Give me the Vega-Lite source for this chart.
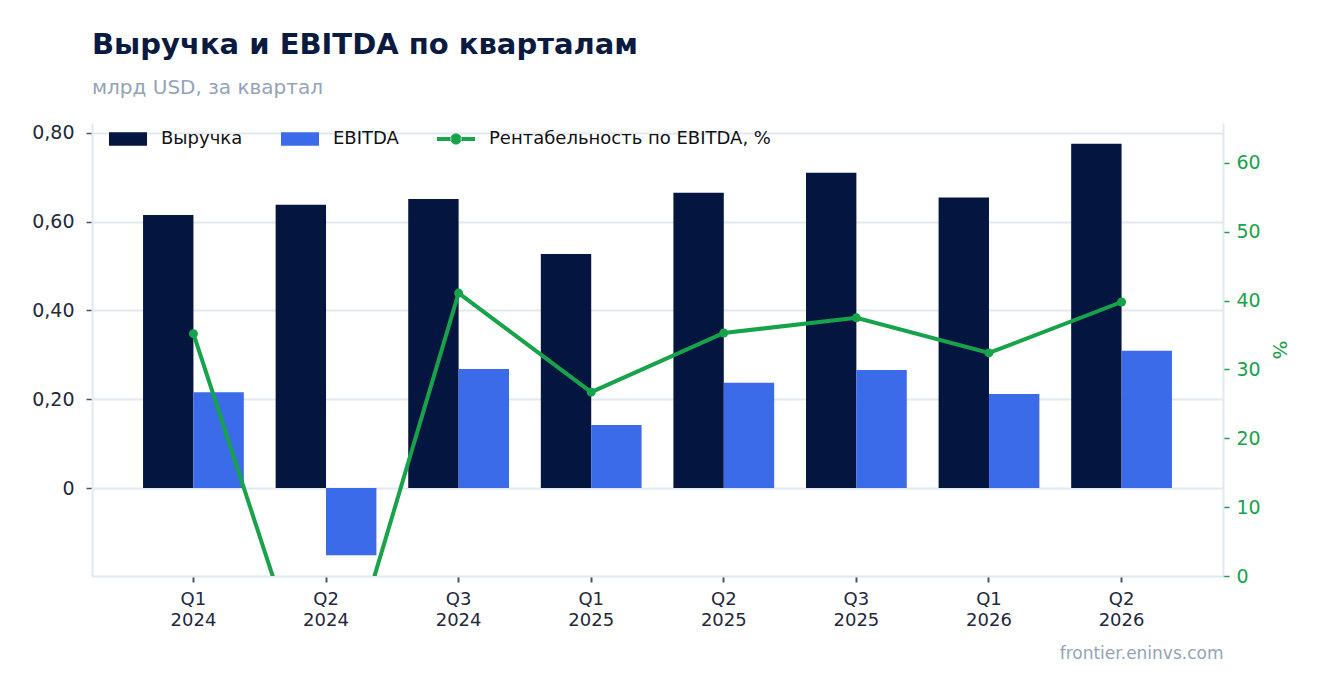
{
  "$schema": "https://vega.github.io/schema/vega-lite/v6.json",
  "width": 1131,
  "height": 453,
  "padding": {"left": 5, "top": 31, "right": 5, "bottom": 5},
  "title": {
    "text": "Выручка и EBITDA по кварталам",
    "subtitle": "млрд USD, за квартал",
    "anchor": "start",
    "frame": "group",
    "font": "DejaVu Sans",
    "fontSize": 29,
    "fontWeight": "bold",
    "color": "#0b1a3f",
    "subtitleFont": "DejaVu Sans",
    "subtitleFontSize": 20,
    "subtitleColor": "#94a3b8",
    "subtitlePadding": 18,
    "offset": 22
  },
  "config": {
    "font": "DejaVu Sans",
    "view": {"stroke": null}
  },
  "resolve": {"scale": {"y": "independent"}, "axis": {"y": "independent"}},
  "layer": [
    {
      "data": {
        "values": [
          {"quarter": "Q1 2024", "series": "Выручка", "value": 0.615},
          {"quarter": "Q1 2024", "series": "EBITDA", "value": 0.216},
          {"quarter": "Q2 2024", "series": "Выручка", "value": 0.638},
          {"quarter": "Q2 2024", "series": "EBITDA", "value": -0.151},
          {"quarter": "Q3 2024", "series": "Выручка", "value": 0.651},
          {"quarter": "Q3 2024", "series": "EBITDA", "value": 0.268},
          {"quarter": "Q1 2025", "series": "Выручка", "value": 0.527},
          {"quarter": "Q1 2025", "series": "EBITDA", "value": 0.142},
          {"quarter": "Q2 2025", "series": "Выручка", "value": 0.665},
          {"quarter": "Q2 2025", "series": "EBITDA", "value": 0.237},
          {"quarter": "Q3 2025", "series": "Выручка", "value": 0.710},
          {"quarter": "Q3 2025", "series": "EBITDA", "value": 0.266},
          {"quarter": "Q1 2026", "series": "Выручка", "value": 0.654},
          {"quarter": "Q1 2026", "series": "EBITDA", "value": 0.212},
          {"quarter": "Q2 2026", "series": "Выручка", "value": 0.775},
          {"quarter": "Q2 2026", "series": "EBITDA", "value": 0.309}
        ]
      },
      "mark": {"type": "bar"},
      "encoding": {
        "x": {
          "field": "quarter",
          "type": "nominal",
          "sort": null,
          "scale": {"paddingInner": 0.24, "paddingOuter": 0.385},
          "axis": {
            "title": "frontier.eninvs.com",
            "titleAnchor": "end",
            "titleColor": "#94a3b8",
            "titleFontWeight": "normal",
            "titleFontSize": 17,
            "titlePadding": 16,
            "labelAngle": 0,
            "labelExpr": "split(datum.label, ' ')",
            "labelFontSize": 18,
            "labelLineHeight": 21,
            "labelColor": "#1e293b",
            "labelPadding": 8,
            "tickColor": "#475569",
            "tickSize": 6,
            "tickWidth": 2,
            "domainColor": "#e2e8f0",
            "domainWidth": 2,
            "grid": false
          }
        },
        "xOffset": {
          "field": "series",
          "type": "nominal",
          "sort": ["Выручка", "EBITDA"],
          "scale": {"paddingInner": 0}
        },
        "y": {
          "field": "value",
          "type": "quantitative",
          "scale": {"domain": [-0.198, 0.822], "nice": false, "zero": false},
          "axis": {
            "title": null,
            "values": [0, 0.2, 0.4, 0.6, 0.8],
            "labelExpr": "datum.value == 0 ? '0' : replace(format(datum.value, '.2f'), '.', ',')",
            "labelFontSize": 19,
            "labelColor": "#1e293b",
            "labelPadding": 12,
            "tickColor": "#475569",
            "tickSize": 6,
            "tickWidth": 1.5,
            "domainColor": "#e2e8f0",
            "domainWidth": 2,
            "gridColor": "#e2e8f0",
            "gridWidth": 2,
            "minExtent": 87,
            "maxExtent": 87
          }
        },
        "color": {
          "field": "series",
          "type": "nominal",
          "scale": {
            "domain": ["Выручка", "EBITDA", "Рентабельность по EBITDA, %"],
            "range": ["#04163F", "#3B6BE8", "#16A34A"]
          },
          "legend": {
            "title": null,
            "orient": "none",
            "legendX": 17,
            "legendY": -3,
            "direction": "horizontal",
            "labelFontSize": 18,
            "labelColor": "#111111",
            "labelLimit": 400,
            "symbolSize": 1444,
            "labelOffset": 14,
            "columnPadding": 38,
            "encode": {
              "symbols": {
                "update": {
                  "shape": {"signal": "datum.value === 'Рентабельность по EBITDA, %' ? 'M-1,-0.1H-0.25V0.1H-1Z M0.25,-0.1H1V0.1H0.25Z M-0.29,0A0.29,0.29 0 1,0 0.29,0A0.29,0.29 0 1,0 -0.29,0Z' : 'M-1,-0.35H1V0.35H-1Z'"},
                  "fill": {"scale": "color", "field": "value"},
                  "stroke": {"value": "transparent"},
                  "strokeWidth": {"value": 0},
                  "opacity": {"value": 1}
                }
              }
            }
          }
        }
      }
    },
    {
      "data": {
        "values": [
          {"quarter": "Q1 2024", "margin": 35.2},
          {"quarter": "Q2 2024", "margin": -23.7},
          {"quarter": "Q3 2024", "margin": 41.1},
          {"quarter": "Q1 2025", "margin": 26.7},
          {"quarter": "Q2 2025", "margin": 35.3},
          {"quarter": "Q3 2025", "margin": 37.5},
          {"quarter": "Q1 2026", "margin": 32.4},
          {"quarter": "Q2 2026", "margin": 39.8}
        ]
      },
      "layer": [
        {
          "mark": {"type": "line", "strokeWidth": 4, "clip": true},
          "encoding": {
            "x": {"field": "quarter", "type": "nominal", "sort": null},
            "y": {
              "field": "margin",
              "type": "quantitative",
              "scale": {"domain": [0, 65.8], "nice": false},
              "axis": {
                "orient": "right",
                "title": "%",
                "titleColor": "#16A34A",
                "titleFontSize": 20,
                "titleFontWeight": "normal",
                "titlePadding": 8,
                "values": [0, 10, 20, 30, 40, 50, 60],
                "labelFontSize": 19,
                "labelColor": "#16A34A",
                "labelPadding": 7,
                "tickColor": "#16A34A",
                "tickSize": 6,
                "tickWidth": 1.5,
                "domainColor": "#e2e8f0",
                "domainWidth": 2,
                "grid": false
              }
            },
            "color": {"datum": "Рентабельность по EBITDA, %"}
          }
        },
        {
          "mark": {"type": "circle", "size": 80, "opacity": 1, "clip": true, "color": "#16A34A"},
          "encoding": {
            "x": {"field": "quarter", "type": "nominal", "sort": null},
            "y": {"field": "margin", "type": "quantitative"}
          }
        }
      ]
    }
  ]
}
